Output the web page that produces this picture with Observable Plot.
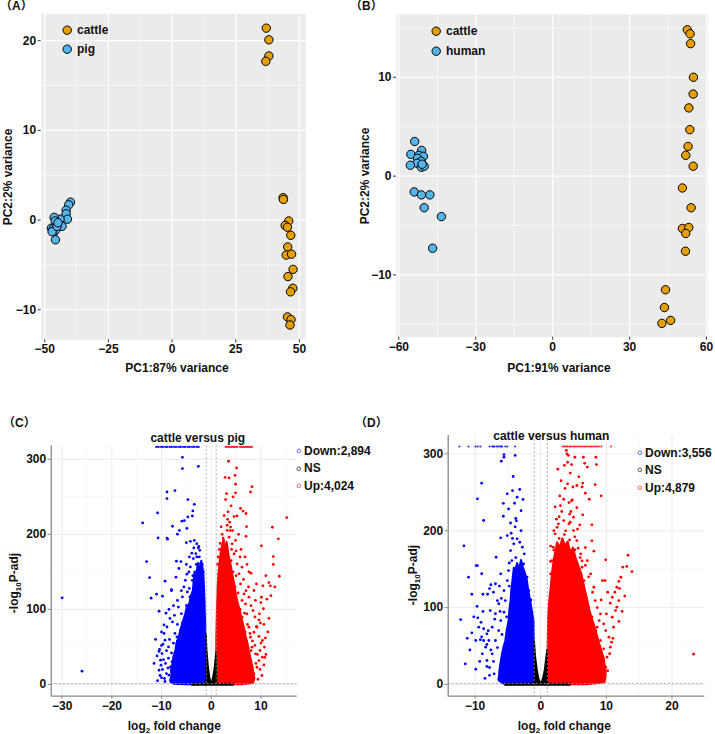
<!DOCTYPE html>
<html><head><meta charset="utf-8">
<script src="https://cdn.jsdelivr.net/npm/d3@7"></script>
<script src="https://cdn.jsdelivr.net/npm/@observablehq/plot@0.6"></script>
<style>
body{margin:0;background:#fff;}
#fig{position:relative;width:715px;height:734px;overflow:hidden;font-family:"Liberation Sans",Arial,sans-serif;font-weight:bold;color:#111;background:#fff;}
.t{position:absolute;font-size:12px;white-space:nowrap;line-height:14px;}
.t sub{font-size:8px;vertical-align:-3px;line-height:0;}
.ptag{font-family:"Liberation Sans","Noto Sans CJK SC",sans-serif;}
#fig svg{position:absolute;overflow:visible;}
#fig svg text{font-family:"Liberation Sans",Arial,sans-serif;font-weight:bold;font-size:12px;}
</style></head><body><div id="fig"></div>
<script>
// ================= DATA =================
// Panel A: PCA cattle vs pig
const pcaA_groups = ["cattle", "pig"];
const pcaA_colors = ["#E69F00", "#56B4E9"];
const pcaA_cattle = [[37.0,21.4],[38.0,20.1],[38.0,18.3],[36.8,17.7],[43.6,2.5],[43.7,2.3],[45.8,-0.1],[44.4,-0.6],[45.3,-0.8],[46.6,-1.7],[45.4,-3.0],[44.8,-3.9],[46.9,-3.8],[47.5,-5.5],[45.5,-6.3],[47.4,-7.6],[46.5,-8.0],[45.3,-10.8],[46.7,-11.1],[46.3,-11.7]];
const pcaA_pig = [[-39.9,2.0],[-40.6,1.7],[-41.6,1.1],[-41.6,0.7],[-41.1,0.1],[-44.0,0.1],[-46.3,0.3],[-45.9,-0.1],[-43.2,-0.7],[-47.4,-0.9],[-46.7,-1.0],[-46.3,-1.3],[-45.7,-1.1],[-47.1,-1.3],[-45.8,-2.2],[-45.2,-0.7],[-44.8,-0.3]];
const pcaA_xTicks = [-50, -25, 0, 25, 50];
const pcaA_xMinor = [-37.5, -12.5, 12.5, 37.5];
const pcaA_yTicks = [-10, 0, 10, 20];
const pcaA_yMinor = [-5, 5, 15];

// Panel B: PCA cattle vs human
const pcaB_groups = ["cattle", "human"];
const pcaB_colors = ["#E69F00", "#56B4E9"];
const pcaB_cattle = [[52.5,14.8],[53.6,14.4],[53.8,13.4],[54.9,10.0],[54.8,8.3],[53.1,6.9],[53.5,4.7],[52.8,3.0],[51.9,2.1],[54.8,1.0],[50.6,-1.2],[54.0,-3.2],[50.6,-5.3],[53.1,-5.2],[51.9,-5.8],[51.8,-7.6],[44.0,-11.5],[43.6,-13.3],[46.0,-14.6],[42.6,-14.9]];
const pcaB_human = [[-53.8,3.5],[-55.3,2.2],[-51.1,2.6],[-52.2,2.1],[-50.4,2.0],[-52.7,1.8],[-51.3,1.5],[-52.9,1.3],[-55.5,1.1],[-51.2,0.9],[-50.1,1.0],[-50.9,1.2],[-54.0,-1.6],[-51.2,-1.9],[-47.9,-1.9],[-50.1,-3.2],[-43.4,-4.1],[-46.8,-7.3]];
const pcaB_xTicks = [-60, -30, 0, 30, 60];
const pcaB_xMinor = [-45, -15, 15, 45];
const pcaB_yTicks = [-10, 0, 10];
const pcaB_yMinor = [-15, -5, 5, 15];

// Panel C: volcano cattle versus pig
const volC_labels = ["Down:2,894", "NS", "Up:4,024"];
const volC_capY = 316.5;
const volC_capDownX = [-11.1,-10.8,-10.6,-10.2,-9.9,-9.7,-9.3,-9.0,-8.8,-8.4,-8.1,-7.9,-7.5,-7.2,-7.0,-6.6,-6.3,-6.1,-5.7,-5.4,-5.2,-4.8,-4.5,-4.3,-3.9,-3.6,-3.4,-3.0,-2.7,-2.5];
const volC_capUpX = [2.9,3.2,3.5,3.8,4.1,4.4,4.7,5.0,5.3,5.8,6.1,6.4,6.7,7.0,7.3,7.6,7.9,8.2];
const volC_downCore = [[-1.15,0.3],[-1.15,40],[-1.2,80],[-1.4,120],[-1.6,150],[-2.0,165],[-2.3,150],[-2.7,162],[-3.1,140],[-3.4,148],[-3.7,125],[-4.1,118],[-4.4,108],[-4.9,104],[-5.2,95],[-5.6,86],[-5.9,80],[-6.3,70],[-6.6,62],[-7.0,55],[-7.2,46],[-7.6,38],[-7.8,28],[-8.1,20],[-8.0,12],[-8.3,5],[-7.5,1],[-5,0.3],[-2.5,0.2]];
const volC_upCore = [[1.0,0.3],[1.0,60],[1.15,100],[1.3,130],[1.5,150],[1.7,165],[2.0,180],[2.4,192],[2.8,183],[3.1,190],[3.5,172],[3.9,160],[4.2,148],[4.6,135],[4.9,122],[5.3,110],[5.7,100],[6.1,88],[6.5,78],[6.9,65],[7.3,55],[7.6,44],[7.9,35],[8.3,24],[8.5,15],[8.7,8],[8.4,2],[6,0.3],[3,0.2]];
const volC_nsCore = [[-1.15,-0.5],[-1.1,8],[-1.05,68],[-0.9,45],[-0.6,22],[-0.3,8],[-0.1,3],[0.1,3],[0.35,10],[0.65,22],[0.95,43],[1.05,8],[1.1,-0.5]];
const volC_nsBase = [[-4.0,-1.2],[4.5,-1.2],[4.5,1.8],[-4.0,1.8]];
const volC_down = [[-30.0,115.4],[-26.0,17.8],[-5.8,302.7],[-5.8,287.6],[-2.6,290.7],[-8.9,256.6],[-7.3,258.3],[-8.9,247.7],[-4.7,246.3],[-3.4,240],[-10.8,228.6],[-3.7,231.3],[-3.8,224.6],[-4.7,223.3],[-5.4,218.4],[-5.9,217.6],[-7.8,210.8],[-13.8,215.3],[-4.9,207.9],[-6.4,205.2],[-6.8,200.2],[-10.7,195.3],[-8.9,195.0],[-8.8,193.6],[-5.0,189],[-4.2,190.7],[-3.4,192],[-2.9,187.6],[-2.5,184],[-13.0,163.8],[-12.4,142.5],[-12.1,115],[-11.0,120.3],[-10.5,97.6],[-9.3,137.6],[-9.8,117.6],[-10.5,44],[-10.4,46.7],[-7.0,164.3],[-6.1,163.8],[-6.5,154.5],[-7.1,143],[-8.0,125],[-8.0,126.5],[-8.5,100],[-9.5,79.4],
[-8.0,3],[-10.2,32.4],[-9.9,41.2],[-9.3,59],[-9.5,68],[-8.9,76.6],[-8.6,50],[-9.7,53.7],[-8.2,23.4],[-9.0,14.6],[-7.5,10.2],[-7.2,36.8],[-6.9,63.4],[-7.8,83.3],[-7.4,92.2],[-6.6,103.2],[-5.8,116.6],[-5.5,130],[-5.2,138.8],[-4.5,149.9],[-4.2,156.6],[-3.6,167.7],[-3.1,174.4],[-2.3,178.8],[-2.2,161],[-2.7,147.7],[-2.0,134.4],[-3.8,138.8],[-4.8,123.3],[-4.3,116.6],[-6.0,94.4],[-5.7,74.4],[-6.4,50],[-7.4,19],[-8.5,12.4],[-6.1,8],[-4.8,5.8],[-3.4,5],[-2.8,3.3],[-9.4,8],[-10.5,19],[-10.1,25.7],[-5.5,63.4],[-4.5,85.6],[-3.4,103.3],[-2.9,121],
[-2.4,170],[-2.0,155],[-1.8,145],[-3.0,160],[-2.6,182],[-3.9,175],[-4.4,170],[-1.6,125],[-3.3,150],
[-10.8,5],[-10.3,12],[-9.8,20],[-9.2,28],[-8.6,35],[-8.0,42],[-9.0,45],[-10.0,52],[-8.4,60],[-7.6,55],[-7.0,48],[-6.8,58],[-7.3,68],[-6.2,72],[-5.8,82],[-6.8,80],[-5.2,88],[-4.6,96],[-5.0,105],[-4.0,108],[-3.6,115],[-4.4,128],[-3.2,128],[-2.4,125],[-1.9,132],[-1.5,110],[-2.2,140],[-3.0,138],[-3.7,145],[-2.6,158],[-1.8,160],[-1.6,150],[-2.9,170],[-3.5,182],[-5.0,160],[-4.9,147],[-6.0,125],[-6.8,112],[-7.6,105],[-8.3,88],[-9.1,95],[-10.0,70],[-11.2,60],[-9.6,33],[-11.5,28],[-10.9,38],[-7.9,30],[-8.7,22],[-9.3,4],[-10.0,9]];
const volC_up = [[3.5,297.4],[5.1,288.5],[2.8,276],[3.6,275.2],[4.8,278.7],[8.2,263.6],[7.9,256.5],[4.9,266.8],[4.9,255.3],[3.1,254.4],[2.9,246.4],[4.0,238],[5.9,234.5],[6.4,231],[7.0,227.8],[15.2,222.4],[4.6,223.7],[5.2,224.6],[3.2,212.2],[3.7,216.2],[7.1,210.4],[12.3,209.5],[13.5,194],[7.0,197.4],[10.1,184.7],[12.5,170.4],[13.7,144.2],[11.6,135.8],[11.9,131.4],[12.0,118.5],[10.4,131.4],[9.1,134],[7.6,150],[8.0,148.3],[11.2,113.6],[10.0,109.1],[10.1,116.2],[10.5,100.9],[9.7,94.2],[9.6,86.2],[9.1,77.3],[10.0,55.2],[10.8,36.1],[10.7,49.9],
[8.6,14.2],[9.2,23],[9.6,31.9],[8.9,40.8],[8.2,49.7],[7.9,63],[8.6,69.6],[7.6,76.3],[7.2,94],[6.9,107.4],[6.6,120.7],[5.9,134],[5.6,147.4],[5.2,160.7],[4.6,174],[4.2,187.4],[3.6,196.3],[2.5,191.9],[2.2,178.6],[1.9,165.2],[1.5,147.4],[6.2,89.6],[10.3,58.6],[9.8,45.3],[7.9,14.2],[7.2,7.5],[5.9,5.3],[4.6,3.6],[3.2,2.7],[10.3,36.4],[9.2,76.3],[8.4,98.5],[7.6,116.3],[8.6,125.2],[6.2,156.3],[4.9,191.9],[3.9,209.7],[3.2,205.2],
[2.6,225],[3.4,230],[4.3,205],[5.5,200],[2.2,200],[4.1,180],[3.0,170],[5.0,145],[1.6,180],[4.4,250],[6.0,180],[6.8,170],[7.5,130],[12.8,130],[12.5,160],[11.0,145],
[1.4,170],[2.0,175],[2.8,168],[3.6,160],[4.4,150],[3.0,185],[2.4,195],[3.8,205],[1.8,188],[4.8,130],[5.4,122],[6.2,112],[5.8,100],[6.7,95],[7.3,80],[6.8,70],[7.8,68],[8.3,58],[8.0,45],[8.8,52],[9.3,40],[9.0,28],[9.8,20],[10.2,12],[9.4,7],[10.6,26],[11.0,40],[10.9,62],[9.6,64],[9.9,82],[8.8,90],[8.0,105],[8.9,112],[7.0,125],[6.5,140],[7.2,160],[5.8,170],[5.0,178],[4.0,165],[3.3,220],[2.0,210],[1.3,160],[11.4,70],[10.6,80],[11.6,88]];
const volC_xTicks = [-30, -20, -10, 0, 10];
const volC_xMinor = [-25, -15, -5, 5, 15];
const volC_yTicks = [0, 100, 200, 300];
const volC_yMinor = [50, 150, 250];

// Panel D: volcano cattle versus human
const volD_labels = ["Down:3,556", "NS", "Up:4,879"];
const volD_capY = 309.5;
const volD_capDownX = [-12.4,-11.0,-9.95,-9.6,-9.2,-7.8,-7.4,-7.2,-7.1,-6.75,-6.5,-6.25,-6.0,-5.9,-5.4,-5.1,-3.9];
const volD_capUpX = [3.35,3.6,3.85,4.1,4.4,4.6,4.9,5.15,5.4,5.7,5.95,6.2,6.5,6.75,7.0,7.3,7.55,7.8,8.1,8.35,8.6,8.9,9.25,10.7];
const volD_downCore = [[-1.05,0.3],[-1.05,50],[-1.1,83],[-1.4,98],[-1.6,109],[-1.9,122],[-2.1,135],[-2.4,145],[-2.7,152],[-3.0,162],[-3.3,150],[-3.6,158],[-3.9,148],[-4.1,152],[-4.3,136],[-4.5,122],[-4.6,109],[-4.8,95],[-4.9,83],[-5.2,70],[-5.4,57],[-5.7,48],[-5.9,40],[-6.1,30],[-6.3,18],[-6.4,5],[-5.5,0.5],[-3,0.2]];
const volD_upCore = [[1.05,0.3],[1.05,50],[1.15,90],[1.3,109],[1.5,125],[1.7,144],[1.95,160],[2.2,172],[2.5,185],[2.9,178],[3.3,190],[3.7,180],[4.1,186],[4.5,172],[4.9,178],[5.3,165],[5.6,158],[5.9,150],[6.2,144],[6.4,135],[6.6,128],[6.8,120],[7.1,110],[7.3,100],[7.7,88],[8.1,78],[8.5,66],[8.8,56],[9.2,45],[9.6,34],[9.8,22],[9.9,12],[9.7,3],[7,0.4],[4,0.2]];
const volD_nsCore = [[-1.1,-0.5],[-1.05,8],[-1.0,58],[-0.85,38],[-0.55,18],[-0.3,7],[-0.1,3],[0.1,3],[0.35,9],[0.6,20],[0.95,45],[1.0,8],[1.05,-0.5]];
const volD_nsBase = [[-5.5,-1.2],[4.5,-1.2],[4.5,1.8],[-5.5,1.8]];
const volD_down = [[-5.6,299],[-5.6,295.6],[-6.0,290.4],[-3.9,297.9],[-4.2,270.5],[-9.0,261.8],[-3.2,253.6],[-4.3,252.2],[-5.1,248],[-3.6,243.6],[-9.65,241.5],[-2.7,240.7],[-5.7,235.6],[-4.0,235.7],[-4.9,228.3],[-3.0,226],[-5.7,218.8],[-8.7,213.3],[-3.8,215.9],[-3.7,212.9],[-11.7,180.4],[-6.1,190.7],[-5.1,193.7],[-4.5,196.7],[-3.0,200.1],[-9.85,154.7],[-9.65,154.7],[-6.8,165.5],[-11.0,139.6],[-9.0,144],[-6.9,131],[-7.6,129.7],[-6.3,128],[-10.5,117.4],[-8.8,117.4],[-8.1,117.4],[-7.8,124.8],[-9.7,101.7],[-12.2,84.5],[-9.6,86.7],[-9.1,80.9],[-10.5,67.2],[-9.2,58.2],[-8.7,72.5],[-8.0,70],[-11.5,26.9],[-8.2,23.4],[-7.8,22.1],[-6.9,92],[-6.4,105],
[-8.9,39.9],[-8.4,48.5],[-7.9,57.2],[-8.7,57.2],[-8.2,31.2],[-7.4,39.9],[-7.1,13.9],[-6.4,7.4],[-5.9,4.3],[-4.9,3],[-3.9,2.6],[-2.8,2.6],[-6.9,57.2],[-6.4,70.2],[-7.4,74.5],[-6.1,83.2],[-5.6,94],[-5.4,109.2],[-5.6,122.2],[-5.1,135.2],[-4.9,148.2],[-4.4,161.2],[-4.6,174.2],[-4.1,182.9],[-3.6,189.4],[-2.8,178.6],[-2.6,156.9],[-2.1,139.5],[-1.8,122.2],[-1.6,100.5],[-9.45,74.5],[-9.9,57.2],[-8.2,65.9],[-7.7,96.2],[-6.6,109.2],[-7.2,120],[-6.1,143.9],
[-1.5,110],[-2.2,120],[-3.0,125],[-3.8,118],[-4.5,100],[-5.2,88],[-5.9,65],[-6.6,48],[-7.2,30],[-7.8,12],[-8.5,8],[-7.6,45],[-8.2,52],[-9.0,62],[-7.0,85],[-6.2,95],[-6.0,112],[-4.8,128],[-4.2,140],[-3.4,140],[-2.6,132],[-1.9,118],[-3.0,155],[-3.8,165],[-2.5,170],[-4.8,158],[-3.2,185],[-4.3,190],[-3.9,205],[-4.6,210],[-2.3,100],[-1.4,95],[-9.3,30],[-9.9,20],[-8.8,95],[-10.2,88],[-10.8,45],[-11.2,60]];
const volD_up = [[3.9,304.3],[4.0,300],[4.2,298],[5.2,295.5],[6.5,295.5],[8.4,295.5],[4.1,289],[6.7,287.6],[4.7,286],[8.5,286],[7.1,282.7],[4.1,261],[5.5,258.8],[6.4,261.9],[6.3,256.8],[4.9,256.8],[8.3,259.8],[6.8,248.8],[9.2,245.3],[2.9,245.2],[3.5,240.9],[4.3,236.6],[3.0,232.7],[4.7,238.9],[2.8,218.3],[4.4,221.6],[4.5,211.1],[6.4,220.7],[7.4,240.9],[7.8,207.7],[5.95,207.7],[5.6,202.1],[3.8,199.9],[5.2,192],[6.8,178.1],[5.7,177.2],[7.8,186.8],[8.1,173.4],[6.3,160.8],[13.3,168.2],[12.5,152.6],[13.1,153.5],[13.9,146.9],[9.9,162.1],[9.4,135.2],[9.8,135.2],[11.6,126.5],[11.3,120],[10.9,113.5],[12.2,139.5],[11.9,134],[10.6,105.7],[10.0,91.8],[9.6,78.8],[10.8,55],[9.9,70.2],[23.3,39.4],[8.9,83.1],[8.0,57.1],[8.3,46.2],
[9.4,13.9],[9.9,22.5],[10.1,35.5],[9.6,46.4],[9.1,57.2],[10.6,48.5],[10.4,61.5],[11.1,74.5],[10.9,87.5],[11.4,96.2],[11.9,109.2],[11.6,100.5],[8.1,65.9],[7.6,83.2],[7.3,100.5],[6.8,117.9],[6.6,135.2],[6.3,152.6],[6.1,169.9],[5.5,187.2],[5.0,200.2],[4.3,208.9],[3.5,213.2],[2.7,208.9],[2.2,195.9],[1.9,178.6],[1.7,161.2],[1.5,143.9],[2.2,230.9],[2.5,204.5],[3.3,187.2],[6.8,5.2],[5.3,3],[3.8,2.2],[2.2,2.2],[8.3,8.7],[8.6,74.5],[9.1,91.8],[8.3,109.2],[8.1,126.5],[7.6,143.9],[7.1,161.2],[5.0,217.5],
[1.5,160],[2.0,175],[2.8,190],[3.6,195],[4.4,188],[5.2,175],[5.9,150],[6.5,125],[7.1,105],[7.8,88],[8.4,70],[9.0,50],[9.6,32],[10.2,18],[8.6,100],[9.2,110],[7.9,120],[7.3,140],[6.8,155],[6.0,165],[4.6,225],[3.2,225],[2.4,215],[3.7,255],[4.8,240],[5.5,230],[2.0,200],[1.5,180],[10.5,40],[11.0,60],[11.9,82],[12.4,95],[10.2,120],[12.8,115],[12.0,125],[3.1,265],[4.5,275],[5.8,270],[3.6,285],[2.6,280]];
const volD_xTicks = [-10, 0, 10, 20];
const volD_xMinor = [-5, 5, 15];
const volD_yTicks = [0, 100, 200, 300];
const volD_yMinor = [50, 150, 250];

const volColors = ["#0000FF", "#000000", "#FF0000"];
const volLegendStroke = ["#6666FF", "#555555", "#FF6666"];

// ================= DRAWING =================
const fig = document.getElementById("fig");
const baseStyle = {fontFamily: "Liberation Sans, Arial, sans-serif", fontSize: "12px", fontWeight: "bold", color: "#111", background: "transparent", overflow: "visible"};
const axisText = {fontSize: 12, fontWeight: "bold", fill: "#111"};

function place(el, x, y) { el.style.left = x + "px"; el.style.top = y + "px"; fig.appendChild(el); }
function txt(html, x, y, mode, cls) {
  const d = document.createElement("div");
  d.className = "t" + (cls ? " " + cls : "");
  d.innerHTML = html;
  d.style.left = x + "px"; d.style.top = y + "px";
  d.style.transform = mode === "rot" ? "translate(-50%,-50%) rotate(-90deg)" : mode === "center" ? "translate(-50%,-50%)" : "translate(0,-50%)";
  fig.appendChild(d);
}
function swatch(cx, cy, r, fill, stroke, sw) {
  const ns = "http://www.w3.org/2000/svg";
  const s = document.createElementNS(ns, "svg");
  const size = 2 * r + 4;
  s.setAttribute("width", size); s.setAttribute("height", size);
  const c = document.createElementNS(ns, "circle");
  c.setAttribute("cx", size / 2); c.setAttribute("cy", size / 2); c.setAttribute("r", r);
  c.setAttribute("fill", fill); c.setAttribute("stroke", stroke); c.setAttribute("stroke-width", sw);
  s.appendChild(c);
  s.style.left = (cx - size / 2) + "px"; s.style.top = (cy - size / 2) + "px";
  fig.appendChild(s);
}
function margins(box, frame) {
  return {width: box.w, height: box.h, marginLeft: frame.l - box.x, marginRight: box.x + box.w - frame.r,
          marginTop: frame.t - box.y, marginBottom: box.y + box.h - frame.b};
}

function pcaPanel(c) {
  const data = c.groups.flatMap((g, i) => c.series[i].map(([x, y]) => ({x, y, g})));
  const chart = Plot.plot({
    ...margins(c.box, c.frame),
    x: {domain: c.xDomain}, y: {domain: c.yDomain},
    color: {domain: c.groups, range: c.colors},
    style: baseStyle,
    marks: [
      Plot.frame({fill: "#EBEBEB", stroke: "none"}),
      Plot.ruleX(c.xMinor, {stroke: "#fff", strokeWidth: 0.6}),
      Plot.ruleY(c.yMinor, {stroke: "#fff", strokeWidth: 0.6}),
      Plot.ruleX(c.xTicks, {stroke: "#fff", strokeWidth: 1.2}),
      Plot.ruleY(c.yTicks, {stroke: "#fff", strokeWidth: 1.2}),
      Plot.axisX(c.xTicks, {tickSize: 3, tickPadding: 2, label: null, stroke: "#333", ...axisText}),
      Plot.axisY(c.yTicks, {tickSize: 3, tickPadding: 2, label: null, stroke: "#333", ...axisText}),
      Plot.dot(data, {x: "x", y: "y", r: 4.2, fill: "g", stroke: "#000", strokeWidth: 1})
    ]
  });
  place(chart, c.box.x, c.box.y);
  c.groups.forEach((g, i) => {
    swatch(c.legend.x, c.legend.y + i * c.legend.dy, 4.2, c.colors[i], "#000", 1);
    txt(g, c.legend.x + 10, c.legend.y + i * c.legend.dy);
  });
}

function volcanoPanel(c) {
  const P = a => a.map(([x, y]) => ({x, y}));
  const capDown = c.capDownX.map(x => ({x, y: c.capY}));
  const capUp = c.capUpX.map(x => ({x, y: c.capY}));
  const chart = Plot.plot({
    ...margins(c.box, c.frame),
    x: {domain: c.xDomain}, y: {domain: c.yDomain},
    style: baseStyle,
    marks: [
      Plot.ruleX(c.xMinor, {stroke: "#F3F3F3", strokeWidth: 0.6}),
      Plot.ruleY(c.yMinor, {stroke: "#F3F3F3", strokeWidth: 0.6}),
      Plot.ruleX(c.xTicks, {stroke: "#EBEBEB", strokeWidth: 1}),
      Plot.ruleY(c.yTicks, {stroke: "#EBEBEB", strokeWidth: 1}),
      Plot.line(P(c.downCore), {x: "x", y: "y", fill: volColors[0], stroke: volColors[0], strokeWidth: 2, curve: "linear"}),
      Plot.line(P(c.upCore), {x: "x", y: "y", fill: volColors[2], stroke: volColors[2], strokeWidth: 2, curve: "linear"}),
      Plot.dot(P(c.down), {x: "x", y: "y", r: 1.4, fill: volColors[0]}),
      Plot.dot(P(c.up), {x: "x", y: "y", r: 1.4, fill: volColors[2]}),
      Plot.dot(capDown, {x: "x", y: "y", r: 1.1, fill: volColors[0], fillOpacity: 0.8}),
      Plot.dot(capUp, {x: "x", y: "y", r: 1.1, fill: volColors[2], fillOpacity: 0.8}),
      Plot.line(P(c.nsBase), {x: "x", y: "y", fill: volColors[1], stroke: volColors[1], strokeWidth: 0.5}),
      Plot.line(P(c.nsCore), {x: "x", y: "y", fill: volColors[1], stroke: volColors[1], strokeWidth: 1.5}),
      Plot.ruleX([-1, 1], {stroke: "#999", strokeWidth: 0.8, strokeDasharray: "2,2"}),
      Plot.ruleY([1.3], {stroke: "#999", strokeWidth: 0.8, strokeDasharray: "2,2"}),
      Plot.ruleX([c.xDomain[0]], {stroke: "#888", strokeWidth: 1.3}),
      Plot.ruleY([c.yDomain[0]], {stroke: "#888", strokeWidth: 1.3}),
      Plot.axisX(c.xTicks, {tickSize: 3, tickPadding: 2, label: null, stroke: "#888", ...axisText}),
      Plot.axisY(c.yTicks, {tickSize: 3, tickPadding: 2, label: null, stroke: "#888", ...axisText})
    ]
  });
  place(chart, c.box.x, c.box.y);
  c.labels.forEach((lab, i) => {
    swatch(c.legend.x, c.legend.y + i * c.legend.dy, 1.8, "#fff", volLegendStroke[i], 1);
    txt(lab, c.legend.x + 5, c.legend.y + i * c.legend.dy);
  });
}

pcaPanel({
  box: {x: 0, y: 0, w: 350, h: 380}, frame: {l: 40.7, r: 305.3, t: 13.3, b: 339.3},
  xDomain: [-51.4, 52.5], yDomain: [-13.35, 23.0],
  xTicks: pcaA_xTicks, xMinor: pcaA_xMinor, yTicks: pcaA_yTicks, yMinor: pcaA_yMinor,
  groups: pcaA_groups, colors: pcaA_colors, series: [pcaA_cattle, pcaA_pig],
  legend: {x: 67, y: 30, dy: 19}
});
pcaPanel({
  box: {x: 355, y: 0, w: 360, h: 380}, frame: {l: 396, r: 707.3, t: 14, b: 336.7},
  xDomain: [-60.9, 60.5], yDomain: [-16.3, 16.35],
  xTicks: pcaB_xTicks, xMinor: pcaB_xMinor, yTicks: pcaB_yTicks, yMinor: pcaB_yMinor,
  groups: pcaB_groups, colors: pcaB_colors, series: [pcaB_cattle, pcaB_human],
  legend: {x: 436, y: 31, dy: 20}
});
volcanoPanel({
  box: {x: 0, y: 425, w: 300, h: 296}, frame: {l: 50.7, r: 296.7, t: 445.3, b: 695.7},
  xDomain: [-32.2, 17.3], yDomain: [-15.6, 318],
  xTicks: volC_xTicks, xMinor: volC_xMinor, yTicks: volC_yTicks, yMinor: volC_yMinor,
  capY: volC_capY, capDownX: volC_capDownX, capUpX: volC_capUpX,
  downCore: volC_downCore, upCore: volC_upCore, nsCore: volC_nsCore, nsBase: volC_nsBase,
  down: volC_down, up: volC_up, labels: volC_labels,
  legend: {x: 299, y: 451, dy: 17.4}
});
volcanoPanel({
  box: {x: 400, y: 425, w: 310, h: 296}, frame: {l: 447.7, r: 704.3, t: 435, b: 695.7},
  xDomain: [-14.1, 25.0], yDomain: [-15.2, 323.8],
  xTicks: volD_xTicks, xMinor: volD_xMinor, yTicks: volD_yTicks, yMinor: volD_yMinor,
  capY: volD_capY, capDownX: volD_capDownX, capUpX: volD_capUpX,
  downCore: volD_downCore, upCore: volD_upCore, nsCore: volD_nsCore, nsBase: volD_nsBase,
  down: volD_down, up: volD_up, labels: volD_labels,
  legend: {x: 640, y: 452.7, dy: 17.5}
});

// Titles and axis labels
txt("PC1:87% variance", 177, 367.7, "center");
txt("PC2:2% variance", 7.5, 177, "rot");
txt("PC1:91% variance", 559, 367.5, "center");
txt("PC2:2% variance", 364.5, 176, "rot");
txt("cattle versus pig", 197.8, 437.5, "center");
txt("cattle versus human", 551.3, 435.5, "center");
txt("log<sub>2</sub> fold change", 174.3, 725.5, "center");
txt("log<sub>2</sub> fold change", 564.3, 725.5, "center");
txt("-log<sub>10</sub>P-adj", 14, 583.3, "rot");
txt("-log<sub>10</sub>P-adj", 413.3, 575, "rot");
txt("（A）", 0, 6, null, "ptag");
txt("（B）", 350, 6, null, "ptag");
txt("（C）", 3, 423, null, "ptag");
txt("（D）", 355, 423, null, "ptag");
</script></body></html>
